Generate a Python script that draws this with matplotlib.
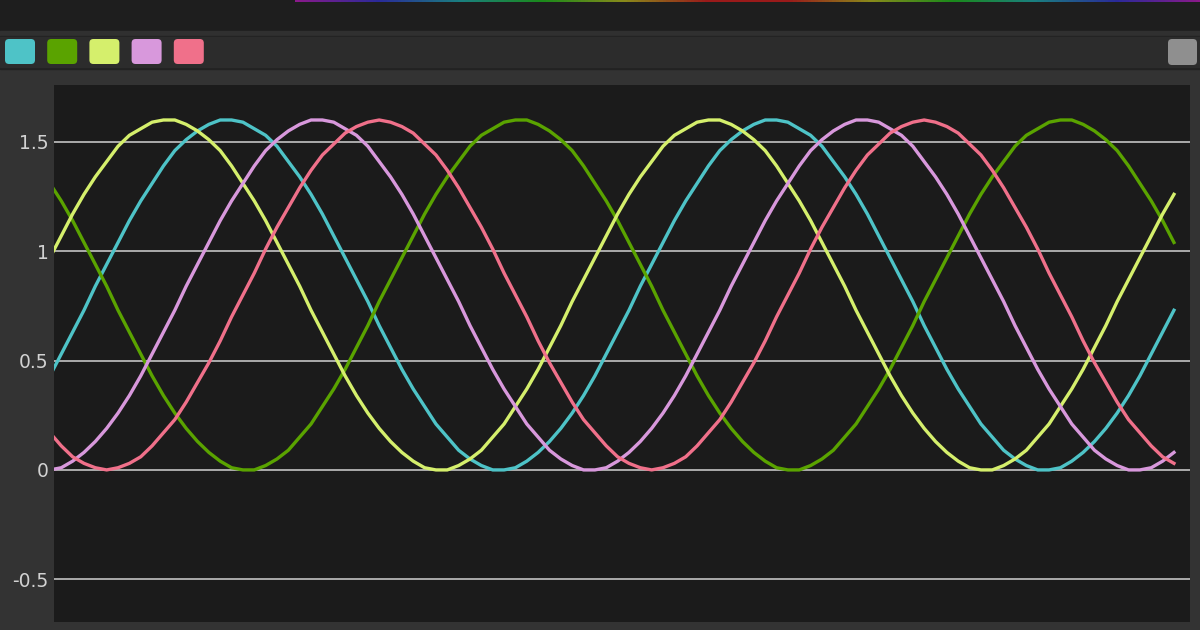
#!/usr/bin/env python3

import numpy as np
import matplotlib
matplotlib.use("Agg")
import matplotlib.pyplot as plt
from matplotlib.patches import Rectangle, FancyBboxPatch
from matplotlib.colors import LinearSegmentedColormap
from matplotlib.transforms import IdentityTransform

# Step 1: data (x = phase step, 7.5 per sample)
x_vals = np.linspace(0, 750, 101)

cyan_vals = [
    0.34, 0.43, 0.53, 0.63, 0.73, 0.84, 0.94, 1.04,
    1.14, 1.23, 1.31, 1.39, 1.46, 1.51, 1.55, 1.58,
    1.60, 1.60, 1.59, 1.56, 1.53, 1.48, 1.41, 1.34,
    1.26, 1.17, 1.07, 0.97, 0.87, 0.77, 0.66, 0.56,
    0.46, 0.37, 0.29, 0.21, 0.15, 0.09, 0.05, 0.02,
    0.00, 0.00, 0.01, 0.04, 0.08, 0.13, 0.19, 0.26,
    0.34, 0.43, 0.53, 0.63, 0.73, 0.84, 0.94, 1.04,
    1.14, 1.23, 1.31, 1.39, 1.46, 1.51, 1.55, 1.58,
    1.60, 1.60, 1.59, 1.56, 1.53, 1.48, 1.41, 1.34,
    1.26, 1.17, 1.07, 0.97, 0.87, 0.77, 0.66, 0.56,
    0.46, 0.37, 0.29, 0.21, 0.15, 0.09, 0.05, 0.02,
    0.00, 0.00, 0.01, 0.04, 0.08, 0.13, 0.19, 0.26,
    0.34, 0.43, 0.53, 0.63, 0.73]
green_vals = [
    1.39, 1.31, 1.23, 1.14, 1.04, 0.94, 0.84, 0.73,
    0.63, 0.53, 0.43, 0.34, 0.26, 0.19, 0.13, 0.08,
    0.04, 0.01, 0.00, 0.00, 0.02, 0.05, 0.09, 0.15,
    0.21, 0.29, 0.37, 0.46, 0.56, 0.66, 0.77, 0.87,
    0.97, 1.07, 1.17, 1.26, 1.34, 1.41, 1.48, 1.53,
    1.56, 1.59, 1.60, 1.60, 1.58, 1.55, 1.51, 1.46,
    1.39, 1.31, 1.23, 1.14, 1.04, 0.94, 0.84, 0.73,
    0.63, 0.53, 0.43, 0.34, 0.26, 0.19, 0.13, 0.08,
    0.04, 0.01, 0.00, 0.00, 0.02, 0.05, 0.09, 0.15,
    0.21, 0.29, 0.37, 0.46, 0.56, 0.66, 0.77, 0.87,
    0.97, 1.07, 1.17, 1.26, 1.34, 1.41, 1.48, 1.53,
    1.56, 1.59, 1.60, 1.60, 1.58, 1.55, 1.51, 1.46,
    1.39, 1.31, 1.23, 1.14, 1.04]
yellow_vals = [
    0.87, 0.97, 1.07, 1.17, 1.26, 1.34, 1.41, 1.48,
    1.53, 1.56, 1.59, 1.60, 1.60, 1.58, 1.55, 1.51,
    1.46, 1.39, 1.31, 1.23, 1.14, 1.04, 0.94, 0.84,
    0.73, 0.63, 0.53, 0.43, 0.34, 0.26, 0.19, 0.13,
    0.08, 0.04, 0.01, 0.00, 0.00, 0.02, 0.05, 0.09,
    0.15, 0.21, 0.29, 0.37, 0.46, 0.56, 0.66, 0.77,
    0.87, 0.97, 1.07, 1.17, 1.26, 1.34, 1.41, 1.48,
    1.53, 1.56, 1.59, 1.60, 1.60, 1.58, 1.55, 1.51,
    1.46, 1.39, 1.31, 1.23, 1.14, 1.04, 0.94, 0.84,
    0.73, 0.63, 0.53, 0.43, 0.34, 0.26, 0.19, 0.13,
    0.08, 0.04, 0.01, 0.00, 0.00, 0.02, 0.05, 0.09,
    0.15, 0.21, 0.29, 0.37, 0.46, 0.56, 0.66, 0.77,
    0.87, 0.97, 1.07, 1.17, 1.26]
violet_vals = [
    0.00, 0.00, 0.01, 0.04, 0.08, 0.13, 0.19, 0.26,
    0.34, 0.43, 0.53, 0.63, 0.73, 0.84, 0.94, 1.04,
    1.14, 1.23, 1.31, 1.39, 1.46, 1.51, 1.55, 1.58,
    1.60, 1.60, 1.59, 1.56, 1.53, 1.48, 1.41, 1.34,
    1.26, 1.17, 1.07, 0.97, 0.87, 0.77, 0.66, 0.56,
    0.46, 0.37, 0.29, 0.21, 0.15, 0.09, 0.05, 0.02,
    0.00, 0.00, 0.01, 0.04, 0.08, 0.13, 0.19, 0.26,
    0.34, 0.43, 0.53, 0.63, 0.73, 0.84, 0.94, 1.04,
    1.14, 1.23, 1.31, 1.39, 1.46, 1.51, 1.55, 1.58,
    1.60, 1.60, 1.59, 1.56, 1.53, 1.48, 1.41, 1.34,
    1.26, 1.17, 1.07, 0.97, 0.87, 0.77, 0.66, 0.56,
    0.46, 0.37, 0.29, 0.21, 0.15, 0.09, 0.05, 0.02,
    0.00, 0.00, 0.01, 0.04, 0.08]
red_vals = [
    0.23, 0.17, 0.11, 0.06, 0.03, 0.01, 0.00, 0.01,
    0.03, 0.06, 0.11, 0.17, 0.23, 0.31, 0.40, 0.49,
    0.59, 0.70, 0.80, 0.90, 1.01, 1.11, 1.20, 1.29,
    1.37, 1.44, 1.49, 1.54, 1.57, 1.59, 1.60, 1.59,
    1.57, 1.54, 1.49, 1.44, 1.37, 1.29, 1.20, 1.11,
    1.01, 0.90, 0.80, 0.70, 0.59, 0.49, 0.40, 0.31,
    0.23, 0.17, 0.11, 0.06, 0.03, 0.01, 0.00, 0.01,
    0.03, 0.06, 0.11, 0.17, 0.23, 0.31, 0.40, 0.49,
    0.59, 0.70, 0.80, 0.90, 1.01, 1.11, 1.20, 1.29,
    1.37, 1.44, 1.49, 1.54, 1.57, 1.59, 1.60, 1.59,
    1.57, 1.54, 1.49, 1.44, 1.37, 1.29, 1.20, 1.11,
    1.01, 0.90, 0.80, 0.70, 0.59, 0.49, 0.40, 0.31,
    0.23, 0.17, 0.11, 0.06, 0.03]

series = [cyan_vals, green_vals, yellow_vals, violet_vals, red_vals]
colors = ['#4ec3c7', '#5aa300', '#d5ef6c', '#d898dc', '#f0708a']

y_ticks = [-0.5, 0, 0.5, 1, 1.5]
y_labels = ['-0.5', '0', '0.5', '1', '1.5']

# Step 2: figure and window chrome
W, H = 1200, 630
fig = plt.figure(figsize=(12, 6.3), dpi=100)
fig.patch.set_facecolor('#333333')


def band(y0, y1, color):
    # horizontal strip given in pixel rows from the top
    fig.add_artist(Rectangle((0, 1 - y1 / H), 1, (y1 - y0) / H,
                             transform=fig.transFigure, color=color, zorder=0))


band(0, 31, '#1e1e1e')
band(31, 36, '#303030')
band(36, 69, '#222222')
band(37, 67, '#2c2c2c')

# rainbow strip along the very top
rain = LinearSegmentedColormap.from_list('rain', [
    '#8a1a8a', '#2a2a9a', '#1a8080', '#1a8a1a', '#8a8a1a', '#9a1a1a',
    '#9a1a1a', '#8a8a1a', '#1a8a1a', '#1a8080', '#2a2a9a', '#8a1a8a'])
rax = fig.add_axes([295 / W, 1 - 2 / H, 905 / W, 2 / H])
rax.imshow(np.linspace(0, 1, 256)[None, :], aspect='auto', cmap=rain)
rax.set_axis_off()

# legend swatches
for i, c in enumerate(colors):
    x0 = 5 + i * 42.2
    fig.add_artist(FancyBboxPatch((x0, H - 64), 30, 25,
                                  boxstyle='round,pad=0,rounding_size=4',
                                  transform=IdentityTransform(),
                                  facecolor=c, edgecolor='none', zorder=2))
fig.add_artist(FancyBboxPatch((1168, H - 65), 29, 26,
                              boxstyle='round,pad=0,rounding_size=4',
                              transform=IdentityTransform(),
                              facecolor='#8f8f8f', edgecolor='none', zorder=2))

# Step 3: plot area
ax = fig.add_axes([54 / W, 1 - 621.7 / H, 1136 / W, (621.7 - 85) / H])
ax.set_facecolor('#1b1b1b')
for s in ax.spines.values():
    s.set_visible(False)

for vals, c in zip(series, colors):
    ax.plot(x_vals, vals, color=c, linewidth=2.4, solid_joinstyle='round')

ax.set_xlim(10.2, 760.6)
ax.set_ylim(-0.694, 1.760)
ax.set_xticks([])
ax.set_yticks(y_ticks)
ax.set_yticklabels(y_labels)
ax.tick_params(axis='y', length=0, pad=4, labelsize=13.5, labelcolor='#d2d2d2')
ax.grid(True, axis='y', color='#c4c4c4', linewidth=1.2)
ax.set_axisbelow(True)

# Step 4: save
fig.savefig('out.png', dpi=100, facecolor=fig.get_facecolor())
